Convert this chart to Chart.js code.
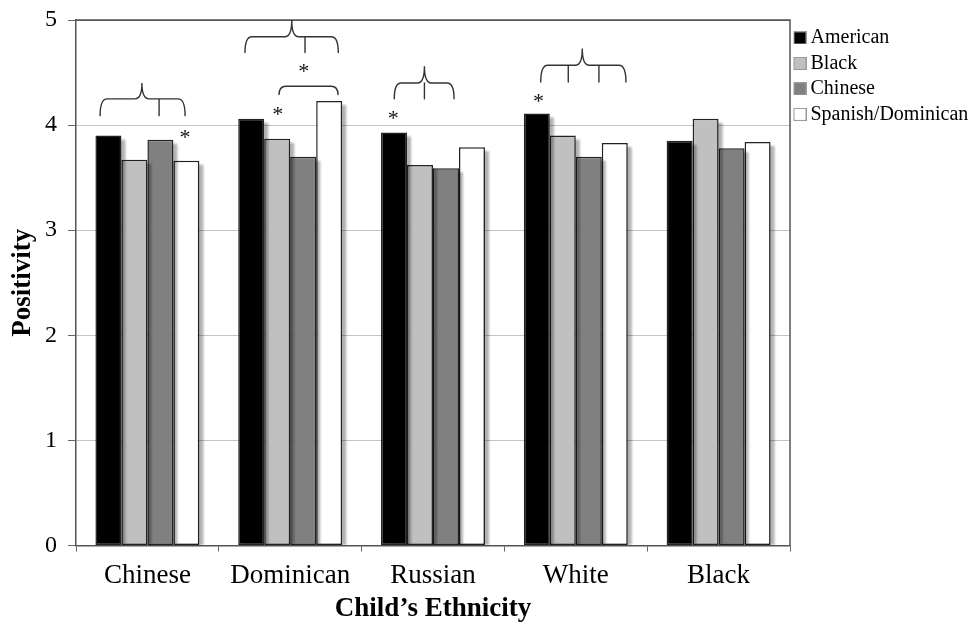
<!DOCTYPE html>
<html>
<head>
<meta charset="utf-8">
<script src="https://cdn.jsdelivr.net/npm/chart.js@4.4.0/dist/chart.umd.min.js"></script>
<style>
  html, body { margin: 0; padding: 0; background: #fff; }
  #wrap { width: 971px; height: 628px; position: relative; }
</style>
</head>
<body>
<div id="wrap"><canvas id="c" width="971" height="628"></canvas></div>
<script>
// ---- data ----
const categories = ['Chinese', 'Dominican', 'Russian', 'White', 'Black'];
const seriesNames = ['American', 'Black', 'Chinese', 'Spanish/Dominican'];
const american = [3.90, 4.06, 3.93, 4.11, 3.85];
const blackRater = [3.67, 3.87, 3.62, 3.90, 4.06];
const chineseRater = [3.86, 3.70, 3.59, 3.70, 3.78];
const spanishRater = [3.66, 4.23, 3.79, 3.83, 3.84];
const yTicks = [0, 1, 2, 3, 4, 5];

// significance annotations (category index, bar-slot offsets, y values in data units)
const braces = [
  { cat: 0, from: -0.32, to: 2.95, tip: 1.29, ticks: [1.95], foot: 4.09, bar: 4.25, peak: 4.40 },
  { cat: 1, from: -0.24, to: 3.35, tip: 1.56, ticks: [2.07], foot: 4.69, bar: 4.84, peak: 5.00 },
  { cat: 1, from: 1.07, to: 3.34, tip: null, ticks: [], foot: 4.29, bar: 4.37, peak: null },
  { cat: 2, from: 0.01, to: 2.31, tip: 1.17, ticks: [1.17], foot: 4.25, bar: 4.40, peak: 4.56 },
  { cat: 3, from: 0.15, to: 3.43, tip: 1.75, ticks: [1.21, 2.39], foot: 4.41, bar: 4.57, peak: 4.73 }
];
const stars = [
  { cat: 0, slot: 2.95, value: 3.92 },
  { cat: 1, slot: 1.02, value: 4.13 },
  { cat: 1, slot: 2.02, value: 4.54 },
  { cat: 2, slot: -0.03, value: 4.10 },
  { cat: 3, slot: 0.06, value: 4.26 }
];

const fills = ['#000000', '#c0c0c0', '#808080', '#ffffff'];
const SERIF = "'Liberation Serif', 'Times New Roman', serif";

// legend swatches (transparent left margin + 13px box)
function swatch(color) {
  const c = document.createElement('canvas');
  c.width = 17; c.height = 13;
  const g = c.getContext('2d');
  g.fillStyle = color;
  g.fillRect(4, 0, 13, 13);
  g.strokeStyle = '#9a9a9a';
  g.lineWidth = 1;
  g.strokeRect(4.5, 0.5, 12, 12);
  return c;
}
const swatches = fills.map(swatch);

const seriesValues = [american, blackRater, chineseRater, spanishRater];

const shadowPlugin = {
  id: 'barShadow',
  beforeDatasetDraw(chart, args) {
    const meta = args.meta;
    const ctx = chart.ctx;
    const area = chart.chartArea;
    ctx.save();
    ctx.beginPath();
    ctx.rect(area.left, area.top, area.right - area.left + 8, area.bottom - area.top);
    ctx.clip();
    ctx.filter = 'blur(1.2px)';
    ctx.fillStyle = 'rgba(0,0,0,0.3)';
    meta.data.forEach(el => {
      const p = el.getProps(['x', 'y', 'base', 'width'], true);
      ctx.fillRect(p.x - p.width / 2 + 4, p.y + 4, p.width, p.base - p.y - 4);
    });
    ctx.restore();
  }
};

const framePlugin = {
  id: 'frame',
  afterDatasetsDraw(chart) {
    const ctx = chart.ctx;
    const a = chart.chartArea;
    ctx.save();
    ctx.strokeStyle = '#555';
    ctx.lineWidth = 1.5;
    ctx.beginPath();
    ctx.moveTo(a.left, a.top);
    ctx.lineTo(a.right, a.top);
    ctx.lineTo(a.right, a.bottom);
    ctx.stroke();
    ctx.restore();
  }
};

const annotPlugin = {
  id: 'annot',
  afterDatasetsDraw(chart) {
    const ctx = chart.ctx;
    const xs = chart.scales.x, ys = chart.scales.y;
    const bw = chart.getDatasetMeta(0).data[0].width;
    const sx = (cat, slot) => xs.getPixelForValue(cat) + (slot - 1.5) * bw;
    ctx.save();
    ctx.strokeStyle = '#333';
    ctx.lineWidth = 1.4;
    ctx.lineCap = 'round';
    braces.forEach(b => {
      const L = sx(b.cat, b.from), R = sx(b.cat, b.to);
      const yF = ys.getPixelForValue(b.foot), yB = ys.getPixelForValue(b.bar);
      const r = Math.min(7, (yF - yB));
      ctx.beginPath();
      ctx.moveTo(L, yF);
      ctx.quadraticCurveTo(L, yB, L + r, yB);
      if (b.tip !== null) {
        const T = sx(b.cat, b.tip), yP = ys.getPixelForValue(b.peak);
        ctx.lineTo(T - 7, yB);
        ctx.quadraticCurveTo(T, yB, T, yP);
        ctx.quadraticCurveTo(T, yB, T + 7, yB);
      }
      ctx.lineTo(R - r, yB);
      ctx.quadraticCurveTo(R, yB, R, yF);
      b.ticks.forEach(t => {
        const tx = sx(b.cat, t);
        ctx.moveTo(tx, yB);
        ctx.lineTo(tx, yF);
      });
      ctx.stroke();
    });
    ctx.fillStyle = '#111';
    ctx.font = '22px ' + SERIF;
    ctx.textAlign = 'center';
    ctx.textBaseline = 'alphabetic';
    const m = ctx.measureText('*');
    const off = (m.actualBoundingBoxAscent - m.actualBoundingBoxDescent) / 2;
    stars.forEach(s => {
      ctx.fillText('*', sx(s.cat, s.slot), ys.getPixelForValue(s.value) + off);
    });
    ctx.restore();
  }
};

const legendFitPlugin = {
  id: 'legendFit',
  afterInit(chart) {
    const lg = chart.legend;
    if (!lg) return;
    const orig = lg.fit.bind(lg);
    lg.fit = function () { orig(); this.width = 181; };
  }
};

Chart.defaults.font.family = SERIF;
Chart.defaults.color = '#000';

new Chart(document.getElementById('c'), {
  type: 'bar',
  data: {
    labels: categories,
    datasets: seriesNames.map((name, i) => ({
      label: name,
      data: seriesValues[i],
      backgroundColor: fills[i],
      borderColor: '#222',
      borderWidth: 1.5,
      borderSkipped: false,
      categoryPercentage: 0.728,
      barPercentage: 1.0
    }))
  },
  options: {
    responsive: false,
    animation: false,
    events: [],
    layout: { padding: { top: 20, right: 0, bottom: 0, left: 0 } },
    scales: {
      x: {
        offset: true,
        border: { display: true, color: '#555', width: 1.5 },
        grid: { offset: true, drawOnChartArea: false, drawTicks: true, tickLength: 6, tickColor: '#666', lineWidth: 1 },
        ticks: { font: { size: 27, family: SERIF }, color: '#000', padding: 8, maxRotation: 0 },
        title: { display: true, text: 'Child\u2019s Ethnicity', font: { size: 27, weight: 'bold', family: SERIF }, color: '#000', padding: { top: 0, bottom: 3 } },
        afterFit(scale) { scale.height = 82.5; }
      },
      y: {
        min: 0, max: 5,
        afterBuildTicks(scale) { scale.ticks = yTicks.map(v => ({ value: v })); },
        border: { display: true, color: '#555', width: 1.5 },
        grid: {
          color: c => (c.tick && c.tick.value === 5) ? '#555' : '#c4c4c4',
          lineWidth: 1,
          tickLength: 8,
          tickColor: '#666'
        },
        ticks: { font: { size: 24, family: SERIF, lineHeight: 0.6 }, color: '#000', padding: 11 },
        title: { display: true, text: 'Positivity', font: { size: 27, weight: 'bold', family: SERIF }, color: '#000', padding: { top: 7, bottom: 0 } },
        afterFit(scale) { scale.width = 76; }
      }
    },
    plugins: {
      tooltip: { enabled: false },
      legend: {
        position: 'right',
        align: 'start',
        fullSize: false,
        title: { display: true, text: ' ', font: { size: 2 }, padding: 0 },
        labels: {
          font: { size: 20, family: SERIF },
          color: '#000',
          usePointStyle: true,
          pointStyleWidth: 5,
          padding: 5.5,
          generateLabels(chart) {
            const items = Chart.defaults.plugins.legend.labels.generateLabels(chart);
            return items.map((it, i) => Object.assign(it, { pointStyle: swatches[it.datasetIndex] }));
          }
        }
      }
    }
  },
  plugins: [legendFitPlugin, shadowPlugin, framePlugin, annotPlugin]
});
</script>
</body>
</html>
